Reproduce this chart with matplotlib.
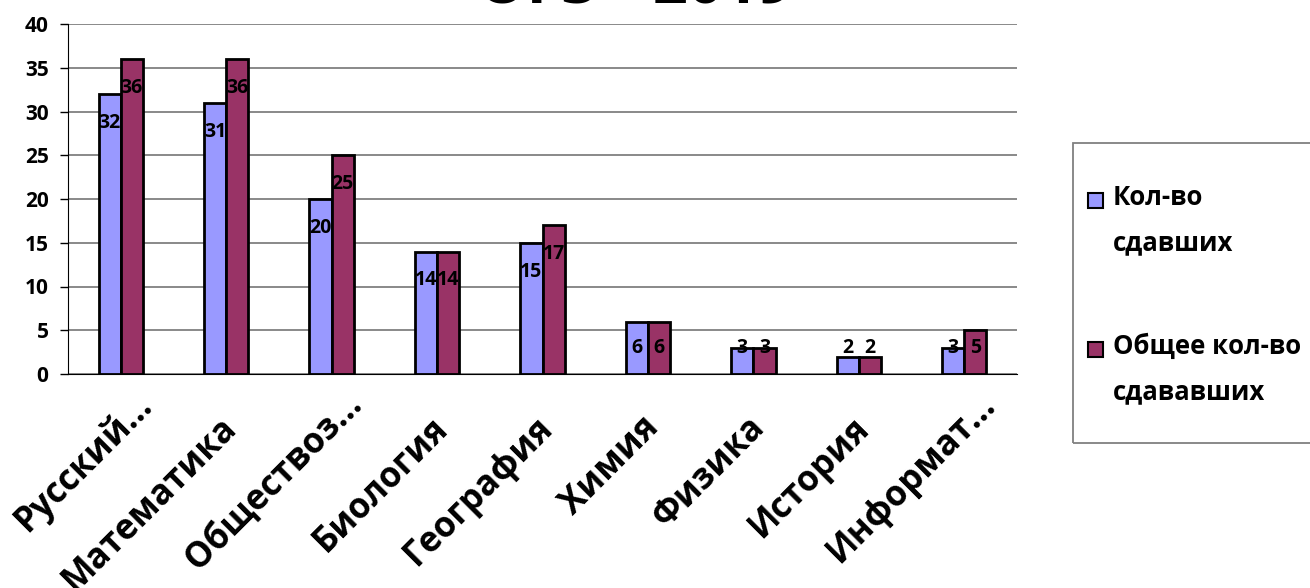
import numpy as np
import matplotlib.pyplot as plt
from matplotlib.patches import Rectangle
from matplotlib.transforms import ScaledTranslation

plt.rcParams['font.family'] = ['Open Sans', 'DejaVu Sans']
plt.rcParams['font.weight'] = 'bold'

categories = ['Русский...', 'Математика', 'Обществоз...', 'Биология', 'География',
              'Химия', 'Физика', 'История', 'Информат...']
passed = [32, 31, 20, 14, 15, 6, 3, 2, 3]
total = [36, 36, 25, 14, 17, 6, 3, 2, 5]
series_names = ['Кол-во\nсдавших', 'Общее кол-во\nсдававших']
colors = ['#9999ff', '#993366']

W, H = 1310, 588
fig = plt.figure(figsize=(W / 100, H / 100), dpi=100)
ax = fig.add_axes([68 / W, 1 - 374 / H, 949 / W, 350 / H])

x = np.arange(len(categories))
w = 0.21
ax.bar(x - w / 2, passed, w, color=colors[0], edgecolor='black', linewidth=2,
       label=series_names[0], zorder=3)
ax.bar(x + w / 2, total, w, color=colors[1], edgecolor='black', linewidth=2,
       label=series_names[1], zorder=3)

for xs, vals in ((x - w / 2, passed), (x + w / 2, total)):
    for xi, v in zip(xs, vals):
        ax.text(xi, max(v - 3.3, 3), str(v), ha='center', va='center',
                fontsize=14, fontweight='bold', zorder=4)

ax.set_xlim(-0.5, len(categories) - 0.5)
ax.set_ylim(0, 40)
ax.set_yticks(range(0, 41, 5))
ax.yaxis.grid(True, color='#808080', linewidth=1.3, zorder=0)
ax.set_axisbelow(True)
ax.tick_params(axis='y', labelsize=15, length=6, width=1, direction='out', pad=8)
ax.tick_params(axis='x', length=0, pad=22)
for lbl in ax.get_yticklabels():
    lbl.set_fontweight('bold')
ax.set_xticks(x)
ax.set_xticklabels(categories, rotation=45, ha='right', va='center',
                   rotation_mode='anchor', fontsize=25, fontweight='bold')
# nudge the rotated labels like the original; truncated ones sit further up-right
for lbl in ax.get_xticklabels():
    dx, dy = 0.06, -0.18
    if lbl.get_text().endswith('...'):
        dx, dy = 0.26, 0.05
    lbl.set_transform(lbl.get_transform() + ScaledTranslation(dx, dy, fig.dpi_scale_trans))
ax.spines['top'].set_visible(False)
ax.spines['right'].set_visible(False)
ax.spines['left'].set_color('black')
ax.spines['bottom'].set_color('black')

# title, mostly cut off at the top edge as in the original
fig.text(635 / W, 1 - 4 / H, 'ОГЭ - 2019', ha='center', va='baseline',
         fontsize=44, fontweight='bold')

# legend drawn by hand: marker aligned with first line of each label
fig.patches.append(Rectangle((1073 / W, 1 - 443 / H), 260 / W, 300 / H,
                             transform=fig.transFigure, fill=False,
                             edgecolor='#808080', linewidth=1.3))
for name, col, yc in zip(series_names, colors, (200, 349)):
    fig.patches.append(Rectangle((1088 / W, 1 - (yc + 8) / H), 15 / W, 15 / H,
                                 transform=fig.transFigure, facecolor=col,
                                 edgecolor='black', linewidth=1.5))
    fig.text(1113 / W, 1 - (yc - 16) / H, name, ha='left', va='top',
             fontsize=18.5, fontweight='bold', linespacing=1.85)

fig.savefig('out.png', dpi=100)
